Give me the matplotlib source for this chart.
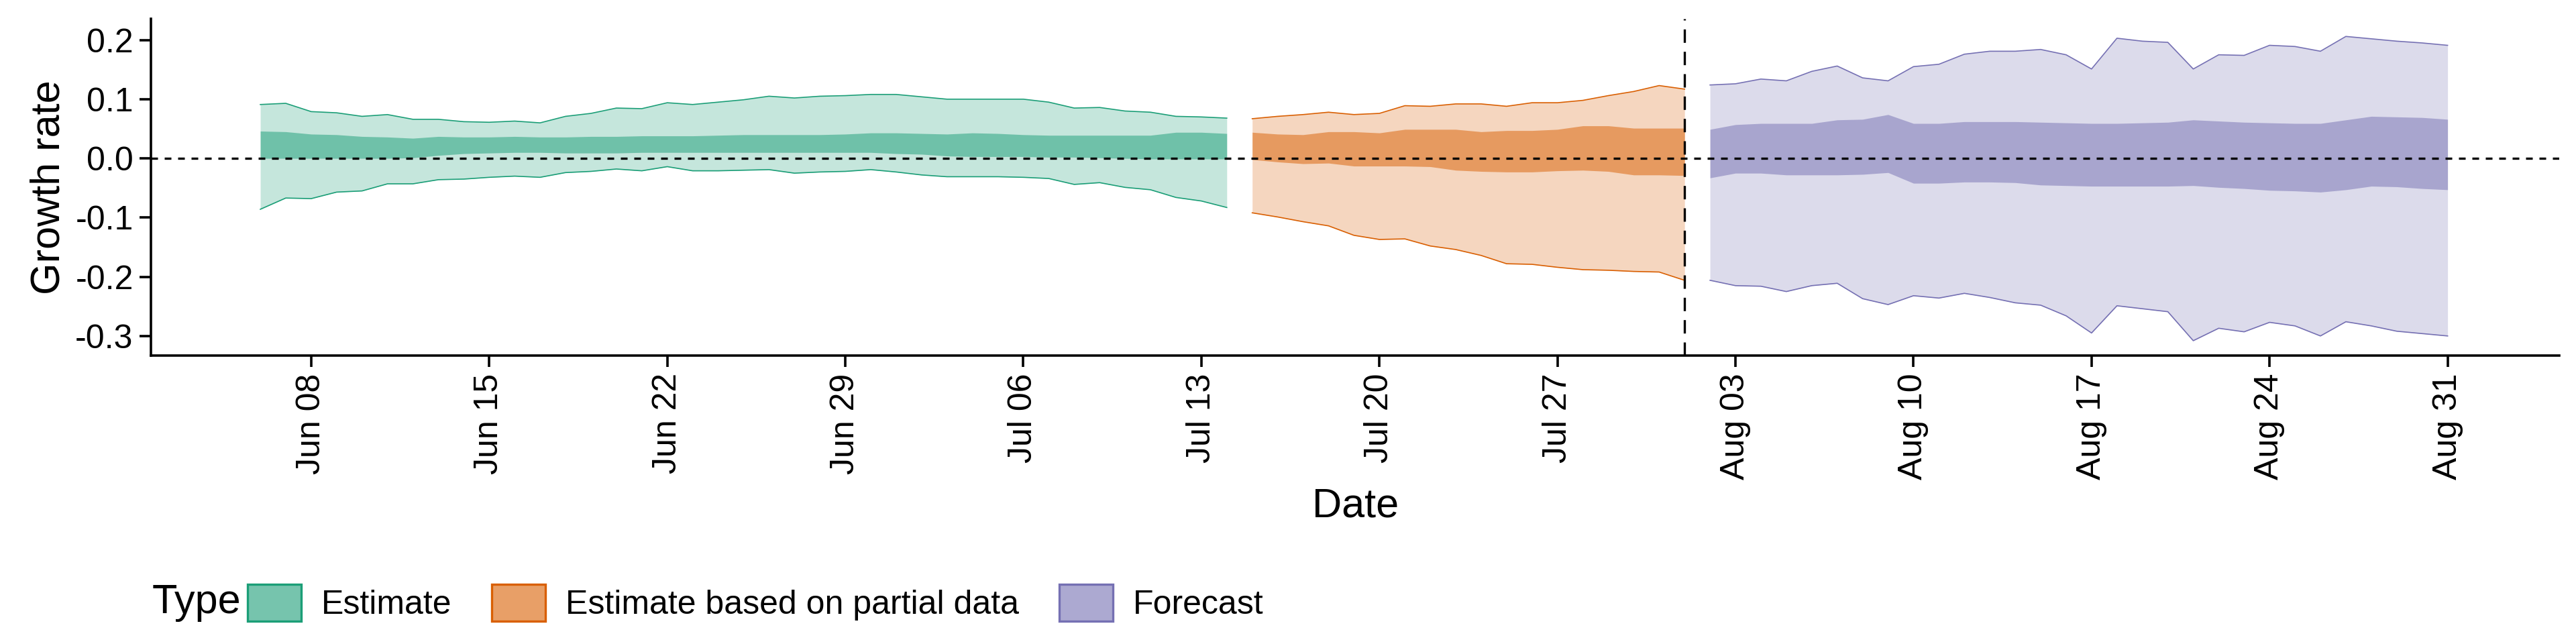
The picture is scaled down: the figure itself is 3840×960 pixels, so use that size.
import numpy as np
import pandas as pd
import matplotlib
matplotlib.use("Agg")
import matplotlib.pyplot as plt
import matplotlib.dates as mdates
from matplotlib.patches import Patch
from matplotlib.ticker import FixedLocator

plt.rcParams['font.family'] = ['Liberation Sans', 'DejaVu Sans']

# estimate (Jun 06 - Jul 14)
est_dates = pd.date_range("2020-06-06", "2020-07-14")
est_lo90 = [-0.086, -0.067, -0.068, -0.057, -0.055, -0.043, -0.043, -0.036, -0.035, -0.032,
            -0.030, -0.032, -0.024, -0.022, -0.018, -0.021, -0.014, -0.021, -0.021, -0.020,
            -0.019, -0.025, -0.023, -0.022, -0.019, -0.023, -0.028, -0.031, -0.031, -0.031,
            -0.032, -0.034, -0.044, -0.041, -0.049, -0.053, -0.066, -0.072, -0.083]
est_hi90 = [0.091, 0.093, 0.079, 0.077, 0.071, 0.074, 0.066, 0.066, 0.062, 0.061,
            0.063, 0.060, 0.071, 0.076, 0.085, 0.084, 0.094, 0.091, 0.095, 0.099,
            0.105, 0.102, 0.105, 0.106, 0.108, 0.108, 0.104, 0.100, 0.100, 0.100,
            0.100, 0.095, 0.085, 0.086, 0.080, 0.078, 0.071, 0.070, 0.068]
est_lo50 = [0.0, 0.0, 0.0, 0.0, 0.0, 0.0, 0.001, 0.005, 0.008, 0.009,
            0.010, 0.010, 0.009, 0.009, 0.009, 0.010, 0.010, 0.010, 0.010, 0.010,
            0.010, 0.010, 0.010, 0.010, 0.010, 0.008, 0.007, 0.004, 0.003, 0.003,
            0.003, 0.002, 0.002, 0.001, 0.0, -0.001, -0.001, -0.001, -0.001]
est_hi50 = [0.046, 0.045, 0.041, 0.040, 0.037, 0.036, 0.034, 0.037, 0.036, 0.036,
            0.037, 0.036, 0.036, 0.037, 0.037, 0.038, 0.038, 0.038, 0.039, 0.040,
            0.040, 0.040, 0.040, 0.041, 0.043, 0.043, 0.042, 0.041, 0.043, 0.042,
            0.040, 0.039, 0.039, 0.039, 0.039, 0.039, 0.044, 0.044, 0.042]

# estimate based on partial data (Jul 15 - Aug 01)
par_dates = pd.date_range("2020-07-15", "2020-08-01")
par_lo90 = [-0.092, -0.099, -0.107, -0.114, -0.130, -0.137, -0.136, -0.148, -0.154, -0.164,
            -0.178, -0.179, -0.184, -0.188, -0.189, -0.191, -0.192, -0.206]
par_hi90 = [0.067, 0.071, 0.074, 0.078, 0.074, 0.076, 0.089, 0.088, 0.092, 0.092,
            0.088, 0.094, 0.094, 0.098, 0.106, 0.113, 0.123, 0.117]
par_lo50 = [-0.002, -0.006, -0.009, -0.008, -0.013, -0.013, -0.013, -0.014, -0.020, -0.022,
            -0.023, -0.023, -0.021, -0.020, -0.022, -0.028, -0.028, -0.029]
par_hi50 = [0.044, 0.041, 0.040, 0.045, 0.045, 0.043, 0.049, 0.049, 0.049, 0.045,
            0.047, 0.047, 0.049, 0.055, 0.055, 0.051, 0.051, 0.051]

# forecast (Aug 02 - Aug 31)
fc_dates = pd.date_range("2020-08-02", "2020-08-31")
fc_lo90 = [-0.206, -0.215, -0.216, -0.225, -0.215, -0.211, -0.237, -0.247, -0.232, -0.236,
           -0.228, -0.235, -0.244, -0.248, -0.266, -0.295, -0.249, -0.254, -0.259, -0.308,
           -0.287, -0.293, -0.277, -0.283, -0.300, -0.276, -0.283, -0.292, -0.296, -0.300]
fc_hi90 = [0.124, 0.126, 0.134, 0.131, 0.147, 0.156, 0.136, 0.131, 0.155, 0.159,
           0.176, 0.181, 0.181, 0.184, 0.175, 0.151, 0.203, 0.198, 0.196, 0.151,
           0.175, 0.174, 0.191, 0.189, 0.181, 0.206, 0.202, 0.198, 0.195, 0.191]
fc_lo50 = [-0.033, -0.025, -0.025, -0.028, -0.028, -0.028, -0.027, -0.024, -0.042, -0.042,
           -0.040, -0.040, -0.041, -0.045, -0.046, -0.047, -0.047, -0.047, -0.047, -0.046,
           -0.049, -0.051, -0.054, -0.055, -0.057, -0.053, -0.047, -0.048, -0.051, -0.053]
fc_hi50 = [0.049, 0.057, 0.059, 0.059, 0.059, 0.065, 0.066, 0.074, 0.059, 0.059,
           0.062, 0.062, 0.062, 0.061, 0.060, 0.059, 0.059, 0.060, 0.061, 0.065,
           0.063, 0.061, 0.060, 0.059, 0.059, 0.065, 0.071, 0.070, 0.069, 0.066]

series = [
    ("Estimate", "#1B9E77", est_dates, est_lo90, est_hi90, est_lo50, est_hi50),
    ("Estimate based on partial data", "#D95F02", par_dates, par_lo90, par_hi90, par_lo50, par_hi50),
    ("Forecast", "#7570B3", fc_dates, fc_lo90, fc_hi90, fc_lo50, fc_hi50),
]

fig = plt.figure(figsize=(19.2, 4.8), dpi=200)
ax = fig.add_axes([0.0586, 0.448, 0.935, 0.523])

handles = []
for name, col, d, lo90, hi90, lo50, hi50 in series:
    ax.fill_between(d, lo90, hi90, color=col, alpha=0.25, lw=0)
    ax.plot(d, lo90, color=col, lw=0.6)
    ax.plot(d, hi90, color=col, lw=0.6)
    ax.fill_between(d, lo50, hi50, color=col, alpha=0.5, lw=0)
    handles.append(Patch(facecolor=matplotlib.colors.to_rgba(col, 0.6), edgecolor=col,
                         lw=1.2, label=name))

ax.axhline(0, color="black", ls=(0, (3, 3)), lw=1.2)
ax.axvline(pd.Timestamp("2020-08-01"), color="black", ls=(0, (6, 4)), lw=1.2)

ax.set_xlim(pd.Timestamp("2020-06-08") - pd.Timedelta(days=6.3),
            pd.Timestamp("2020-08-31") + pd.Timedelta(days=4.4))
ax.set_ylim(-0.333, 0.236)
ax.set_yticks([-0.3, -0.2, -0.1, 0.0, 0.1, 0.2])
ax.set_yticklabels(["-0.3", "-0.2", "-0.1", "0.0", "0.1", "0.2"])
ax.xaxis.set_major_locator(FixedLocator(mdates.date2num(
    pd.date_range("2020-06-08", "2020-08-31", freq="7D"))))
ax.xaxis.set_major_formatter(mdates.DateFormatter("%b %d"))
for lab in ax.get_xticklabels():
    lab.set_rotation(90)
ax.tick_params(labelsize=18, width=1.3, length=6, colors="black")
for s in ["top", "right"]:
    ax.spines[s].set_visible(False)
for s in ["left", "bottom"]:
    ax.spines[s].set_linewidth(1.3)
ax.set_xlabel("Date", fontsize=22)
ax.set_ylabel("Growth rate", fontsize=22)

fig.text(0.059, 0.064, "Type", fontsize=22, va="center", ha="left")
fig.legend(handles=handles, loc="center left", bbox_to_anchor=(0.096, 0.064),
           ncol=3, frameon=False, fontsize=18,
           handlelength=1.6, handleheight=1.3, columnspacing=1.2, handletextpad=0.6,
           borderaxespad=0, borderpad=0)

fig.savefig("out.png", dpi=200)
